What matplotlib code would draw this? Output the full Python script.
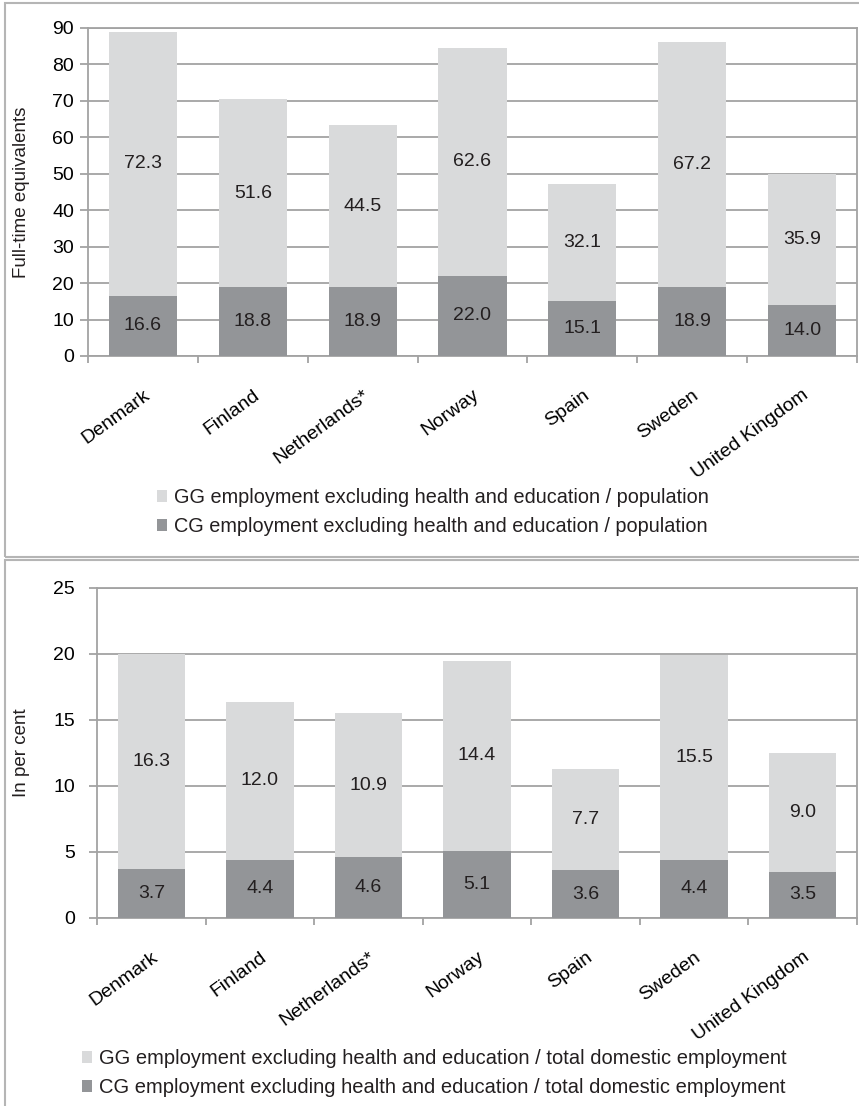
import matplotlib.pyplot as plt
import numpy as np
from matplotlib.patches import Rectangle

countries = ["Denmark", "Finland", "Netherlands*", "Norway", "Spain", "Sweden", "United Kingdom"]

# top panel: full-time equivalents
cg_pop = [16.6, 18.8, 18.9, 22.0, 15.1, 18.9, 14.0]
gg_pop = [72.3, 51.6, 44.5, 62.6, 32.1, 67.2, 35.9]

# bottom panel: per cent of total domestic employment
cg_emp = [3.7, 4.4, 4.6, 5.1, 3.6, 4.4, 3.5]
gg_emp = [16.3, 12.0, 10.9, 14.4, 7.7, 15.5, 9.0]

LIGHT = "#d9dadb"
DARK = "#939598"
GRID = "#a3a3a3"
TXT = "#231f20"
W, H = 859, 1106

plt.rcParams["font.family"] = ["Liberation Sans", "DejaVu Sans"]
plt.rcParams["text.color"] = TXT


def px_axes(fig, left, top, right, bottom):
    """Add axes given pixel edges (origin top left)."""
    return fig.add_axes([left / W, 1 - bottom / H, (right - left) / W, (bottom - top) / H])


def draw_panel(ax, cg, gg, ymax, step, ypad):
    x = np.arange(len(countries))
    b1 = ax.bar(x, cg, width=0.62, color=DARK, zorder=3)
    b2 = ax.bar(x, gg, width=0.62, bottom=cg, color=LIGHT, zorder=3)

    # value labels in the middle of each segment
    for xi, c, g in zip(x, cg, gg):
        ax.text(xi, c / 2, f"{c:.1f}", ha="center", va="center", fontsize=14, zorder=4)
        ax.text(xi, c + g / 2, f"{g:.1f}", ha="center", va="center", fontsize=14, zorder=4)

    ax.set_xlim(-0.5, len(countries) - 0.5)
    ax.set_ylim(0, ymax)
    ax.set_yticks(np.arange(0, ymax + step, step))
    ax.yaxis.grid(True, color=GRID, linewidth=1.3, zorder=0)
    ax.set_axisbelow(True)

    ax.set_xticks(x)
    ax.set_xticklabels(countries, rotation=36, ha="right", rotation_mode="anchor",
                       fontsize=14)
    ax.set_xticks(np.arange(-0.5, len(countries)), minor=True)
    ax.tick_params(axis="x", which="major", length=0, pad=22)
    ax.tick_params(axis="x", which="minor", length=5, color=GRID, width=1.3)
    ax.tick_params(axis="y", length=6, color=GRID, width=1.3, labelsize=14, pad=ypad)

    for s in ax.spines.values():
        s.set_color(GRID)
        s.set_linewidth(1.3)
    return b1, b2


fig = plt.figure(figsize=(W / 100, H / 100), dpi=100)

# panel frames
fig.patches.append(Rectangle((5 / W, 1 - 557 / H), 1.2, 554 / H, transform=fig.transFigure,
                             fill=False, edgecolor="#b5b5b5", linewidth=1.5))
fig.patches.append(Rectangle((5 / W, -0.2), 1.2, 1 - 560 / H + 0.2, transform=fig.transFigure,
                             fill=False, edgecolor="#b5b5b5", linewidth=1.5))

# top panel
ax1 = px_axes(fig, 88, 28, 857, 356)
b1, b2 = draw_panel(ax1, cg_pop, gg_pop, 90, 10, 4)
fig.text(22 / W, 1 - 192 / H, "Full-time equivalents", rotation=90, ha="center",
         va="center", fontsize=13.5)
fig.legend([b2, b1],
           ["GG employment excluding health and education / population",
            "CG employment excluding health and education / population"],
           loc="center left", bbox_to_anchor=(157 / W, 1 - 512 / H), frameon=False,
           fontsize=14.3, handlelength=0.5, handleheight=0.5, handletextpad=0.35,
           labelspacing=0.5, borderaxespad=0, borderpad=0)

# bottom panel
ax2 = px_axes(fig, 97, 588, 857, 918)
b1, b2 = draw_panel(ax2, cg_emp, gg_emp, 25, 5, 10)
fig.text(22 / W, 1 - 753 / H, "In per cent", rotation=90, ha="center",
         va="center", fontsize=13.5)
fig.legend([b2, b1],
           ["GG employment excluding health and education / total domestic employment",
            "CG employment excluding health and education / total domestic employment"],
           loc="center left", bbox_to_anchor=(82 / W, 1 - 1073 / H), frameon=False,
           fontsize=14.5, handlelength=0.5, handleheight=0.5, handletextpad=0.35,
           labelspacing=0.5, borderaxespad=0, borderpad=0)

fig.savefig("out.png", dpi=100)
